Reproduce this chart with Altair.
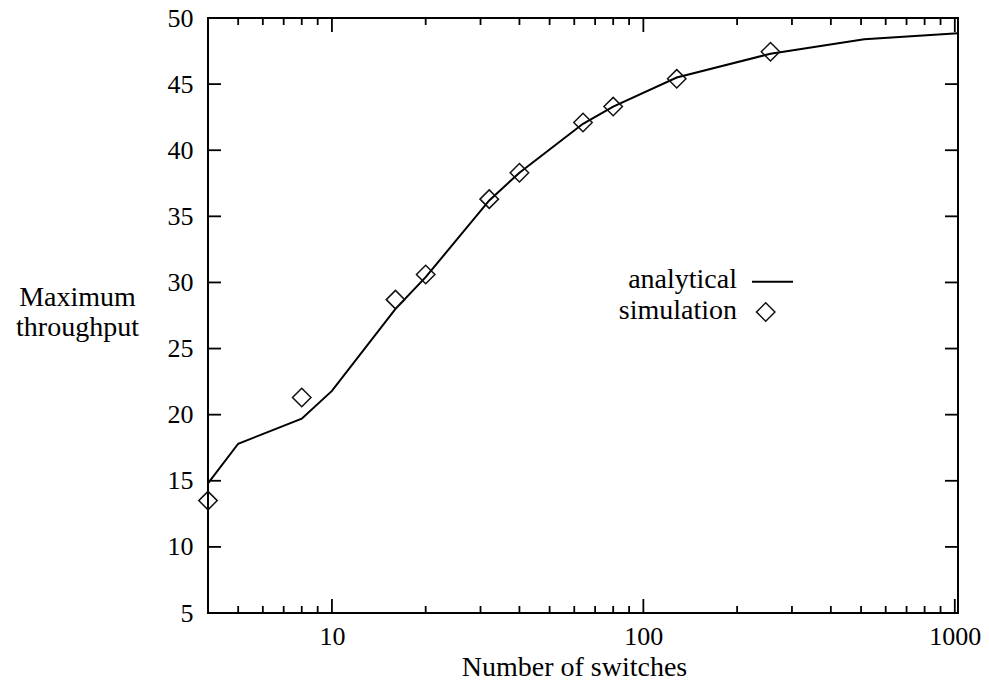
import altair as alt
import pandas as pd

# Analytical curve (polyline)
analytical_x = [4, 5, 8, 10, 16, 20, 32, 40, 64, 80, 128, 256, 512, 1024]
analytical_y = [14.8, 17.8, 19.7, 21.8, 28.0, 30.4, 36.2, 38.3, 42.0, 43.3, 45.5, 47.3, 48.4, 48.85]

# Simulation points
simulation_x = [4, 8, 16, 20, 32, 40, 64, 80, 128, 256]
simulation_y = [13.5, 21.3, 28.7, 30.6, 36.3, 38.3, 42.1, 43.3, 45.4, 47.45]

# Axis ticks
x_major_ticks = [10, 100, 1000]
x_minor_ticks = [5, 6, 7, 8, 9, 20, 30, 40, 50, 60, 70, 80, 90,
                 200, 300, 400, 500, 600, 700, 800, 900]
y_ticks = [10, 15, 20, 25, 30, 35, 40, 45]
y_labels = [5, 10, 15, 20, 25, 30, 35, 40, 45, 50]

FONT = "Liberation Serif"
FS = 26
TFS = 28
W, H = 750, 595

xscale = alt.Scale(type="log", domain=[4, 1024], nice=False)
yscale = alt.Scale(domain=[5, 50], nice=False, zero=False)

ana = pd.DataFrame({"x": analytical_x, "y": analytical_y})
sim = pd.DataFrame({"x": simulation_x, "y": simulation_y})

xaxis = alt.Axis(values=x_major_ticks, format="d", ticks=False, domain=False, grid=False,
                 labelFont=FONT, labelFontSize=FS, labelColor="black",
                 labelBaseline="alphabetic", labelPadding=31, labelFlush=False,
                 title="Number of switches", titleFont=FONT, titleFontSize=TFS,
                 titleFontWeight="normal", titleColor="black",
                 titleAlign="center", titleBaseline="alphabetic",
                 titleX=366, titleY=62)
yaxis = alt.Axis(values=y_labels, ticks=False, domain=False, grid=False,
                 labelFont=FONT, labelFontSize=FS, labelColor="black",
                 labelBaseline="middle", labelPadding=15, labelFlush=False,
                 title=["Maximum", "throughput"], titleFont=FONT, titleFontSize=TFS,
                 titleFontWeight="normal", titleColor="black", titleAngle=0,
                 titleAlign="center", titleBaseline="alphabetic",
                 titleX=-131, titleY=287, titleLineHeight=30)

line = alt.Chart(ana).mark_line(color="black", strokeWidth=2).encode(
    x=alt.X("x:Q", scale=xscale, axis=xaxis),
    y=alt.Y("y:Q", scale=yscale, axis=yaxis),
)

pts = alt.Chart(sim).mark_point(shape="diamond", size=340, filled=False,
                                color="#111111", strokeWidth=1.5, opacity=1).encode(
    x=alt.X("x:Q", scale=xscale),
    y=alt.Y("y:Q", scale=yscale),
)

xmaj = pd.DataFrame({"x": x_major_ticks})
xmin = pd.DataFrame({"x": x_minor_ticks})
yt = pd.DataFrame({"y": y_ticks})

tick_style = dict(color="black", strokeWidth=1.8)

xmaj_bottom = alt.Chart(xmaj).mark_rule(**tick_style).encode(
    x=alt.X("x:Q", scale=xscale), y=alt.value(H), y2=alt.value(H - 14))
xmaj_top = alt.Chart(xmaj).mark_rule(**tick_style).encode(
    x=alt.X("x:Q", scale=xscale), y=alt.value(0), y2=alt.value(14))
xmin_bottom = alt.Chart(xmin).mark_rule(**tick_style).encode(
    x=alt.X("x:Q", scale=xscale), y=alt.value(H), y2=alt.value(H - 7))
xmin_top = alt.Chart(xmin).mark_rule(**tick_style).encode(
    x=alt.X("x:Q", scale=xscale), y=alt.value(0), y2=alt.value(7))
y_left = alt.Chart(yt).mark_rule(**tick_style).encode(
    y=alt.Y("y:Q", scale=yscale), x=alt.value(0), x2=alt.value(13))
y_right = alt.Chart(yt).mark_rule(**tick_style).encode(
    y=alt.Y("y:Q", scale=yscale), x=alt.value(W), x2=alt.value(W - 13))

# Legend (label on the left, sample on the right)
leg_text = alt.Chart(pd.DataFrame({"t": ["analytical"]})).mark_text(
    font=FONT, fontSize=TFS, align="right", baseline="alphabetic", color="black"
).encode(text="t:N", x=alt.value(529), y=alt.value(270))
leg_text2 = alt.Chart(pd.DataFrame({"t": ["simulation"]})).mark_text(
    font=FONT, fontSize=TFS, align="right", baseline="alphabetic", color="black"
).encode(text="t:N", x=alt.value(529), y=alt.value(301))
leg_line = alt.Chart(pd.DataFrame({"a": [0]})).mark_rule(color="black", strokeWidth=2).encode(
    x=alt.value(544), x2=alt.value(585), y=alt.value(263.7))
leg_pt = alt.Chart(pd.DataFrame({"a": [0]})).mark_point(
    shape="diamond", size=340, filled=False, color="#111111", strokeWidth=1.5, opacity=1
).encode(x=alt.value(557.7), y=alt.value(294))

chart = alt.layer(
    line, pts, xmaj_bottom, xmaj_top, xmin_bottom, xmin_top, y_left, y_right,
    leg_text, leg_text2, leg_line, leg_pt
).properties(
    width=W, height=H,
    autosize=alt.AutoSizeParams(type="none"),
    padding={"left": 208, "top": 18, "right": 31, "bottom": 77},
    background="white",
).configure_view(
    stroke="black", strokeWidth=2
)

chart.save("out.html", embed_options={"renderer": "svg", "actions": False})
